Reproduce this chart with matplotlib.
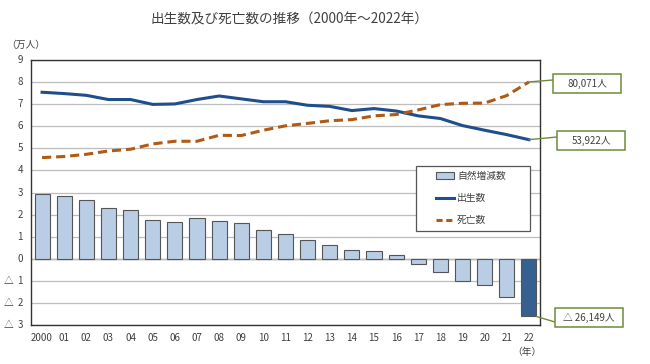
import matplotlib
matplotlib.use("Agg")
import matplotlib.pyplot as plt
from matplotlib.patches import Patch, Rectangle, ConnectionPatch
from matplotlib.lines import Line2D
import numpy as np

plt.rcParams["font.family"] = ["Noto Sans CJK JP", "DejaVu Sans"]

# data, in units of 10,000 people (万人)
years = ["2000", "01", "02", "03", "04", "05", "06", "07", "08", "09", "10", "11",
         "12", "13", "14", "15", "16", "17", "18", "19", "20", "21", "22"]
births = [7.54, 7.48, 7.40, 7.21, 7.21, 6.99, 7.01, 7.21, 7.37, 7.24, 7.11, 7.11,
          6.95, 6.90, 6.71, 6.80, 6.69, 6.47, 6.35, 6.03, 5.82, 5.62, 5.3922]
deaths = [4.58, 4.63, 4.73, 4.88, 4.96, 5.20, 5.32, 5.32, 5.59, 5.58, 5.82, 6.02,
          6.13, 6.25, 6.30, 6.47, 6.53, 6.74, 6.98, 7.04, 7.05, 7.39, 8.0071]
natural = [2.95, 2.84, 2.66, 2.30, 2.23, 1.76, 1.68, 1.85, 1.71, 1.62, 1.32, 1.13,
           0.83, 0.63, 0.41, 0.33, 0.18, -0.23, -0.59, -0.99, -1.17, -1.75, -2.6149]
yticks = [-3, -2, -1, 0, 1, 2, 3, 4, 5, 6, 7, 8, 9]

TXT = "#404040"
BAR = "#b9cde5"
BAR_LAST = "#35608f"
BLUE = "#1f4e8c"
BROWN = "#b05a14"
OLIVE = "#6f8a3a"
W, H = 650, 364

fig = plt.figure(figsize=(6.5, 3.64), dpi=100)
ax = fig.add_axes([31 / W, 1 - 325 / H, 509 / W, 265 / H])

x = np.arange(len(years))
colors = [BAR] * (len(years) - 1) + [BAR_LAST]
ax.bar(x, natural, width=0.68, color=colors, edgecolor="#555555", linewidth=0.8, zorder=2)
ax.plot(x, births, color=BLUE, lw=2.2, zorder=3)
ax.plot(x, deaths, color=BROWN, lw=2.2, ls=(0, (3, 1.6)), zorder=3)

ax.set_xlim(-0.5, len(years) - 0.5)
ax.set_ylim(-3, 9)
ax.set_yticks(yticks)
ax.set_yticklabels([])
ax.set_xticks(x)
ax.set_xticklabels(years)
ax.tick_params(length=0, labelsize=7, colors=TXT, pad=6)
ax.grid(axis="y", color="#bdbdbd", lw=0.9, zorder=0)
ax.axhline(0, color="#555555", lw=0.9, zorder=1)
for s in ax.spines.values():
    s.set_color("#333333")
    s.set_linewidth(1.0)

# y labels: negative values are written with a triangle in front
ytr = ax.get_yaxis_transform()
for v in yticks:
    ax.text(-8 / 509, v, str(abs(v)), transform=ytr, ha="right", va="center",
            fontsize=7, color=TXT)
    if v < 0:
        ax.text(-27 / 509, v, "△", transform=ytr, ha="left", va="center",
                fontsize=7, color=TXT)

fig.text(150 / W, 1 - 19 / H, "出生数及び死亡数の推移（2000年～2022年）",
         fontsize=9.8, color=TXT, va="center", ha="left")
fig.text(6 / W, 1 - 45 / H, "（万人）", fontsize=7, color=TXT, va="center", ha="left")
fig.text(527 / W, 1 - 352 / H, "（年）", fontsize=7, color=TXT, va="center", ha="center")

# legend with a hand-drawn frame
ax.add_patch(Rectangle(((416 - 31) / 509, (325 - 231) / 265), 114 / 509, 65 / 265,
                       transform=ax.transAxes, fc="white", ec="#555555", lw=0.9,
                       zorder=4))
handles = [Patch(facecolor=BAR, edgecolor="#555555", lw=0.8),
           Line2D([], [], color=BLUE, lw=2.2),
           Line2D([], [], color=BROWN, lw=2.2, ls=(0, (2, 1.2)))]
leg = ax.legend(handles, ["自然増減数", "出生数", "死亡数"], loc="upper left",
                bbox_to_anchor=((436 - 31) / 509, (325 - 171) / 265), fontsize=7,
                frameon=False, handlelength=1.9, handletextpad=0.25,
                labelspacing=1.25, borderpad=0, borderaxespad=0, labelcolor=TXT)
leg.set_zorder(5)

# callout boxes at the right
last = len(years) - 1
notes = [(last, deaths[last], "80,071人", 553, 74, 80),
         (last, births[last], "53,922人", 557, 131, 137),
         (last + 0.34, natural[last], "△ 26,149人", 555, 308, 322)]
for xv, yv, label, bx, by, ly in notes:
    fig.patches.append(Rectangle((bx / W, 1 - (by + 19) / H), 68 / W, 19 / H,
                                 transform=fig.transFigure, fc="white", ec=OLIVE,
                                 lw=1.1))
    fig.text((bx + 34) / W, 1 - (by + 9.5) / H, label, ha="center", va="center",
             fontsize=7, color=TXT)
    con = ConnectionPatch(xyA=(xv, yv), coordsA=ax.transData,
                          xyB=(bx / W, 1 - ly / H), coordsB=fig.transFigure,
                          color=OLIVE, lw=1.0)
    con.set_clip_on(False)
    fig.add_artist(con)

fig.savefig("out.png", dpi=100)
